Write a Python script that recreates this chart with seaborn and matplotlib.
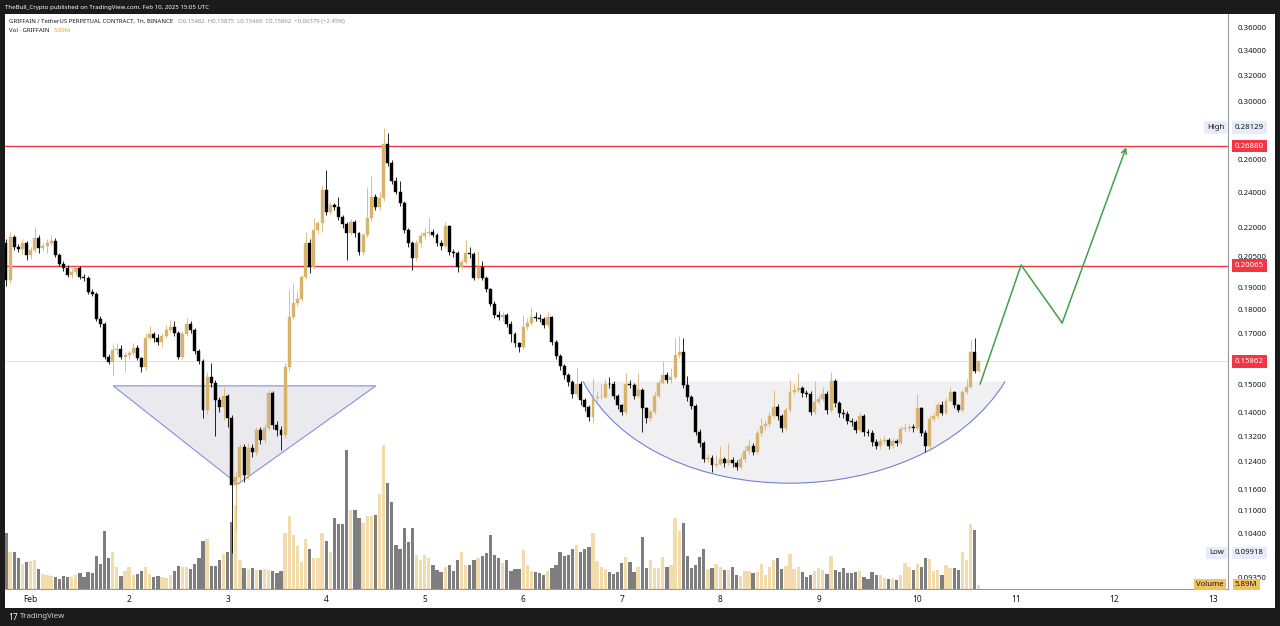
import matplotlib
matplotlib.use("Agg")
import matplotlib.pyplot as plt
import matplotlib.transforms as mtransforms
from matplotlib.patches import Polygon, PathPatch, Rectangle
from matplotlib.path import Path
from matplotlib.ticker import FormatStrFormatter, NullLocator, NullFormatter
import numpy as np
import pandas as pd
import seaborn as sns

# hourly candles, hour 0 = Feb 1 00:00 UTC
first_hour = -6
first_open = 0.2120
closes = [
    0.1936, 0.2150, 0.2100, 0.2090, 0.2120, 0.2060,
    0.2085, 0.2145, 0.2095, 0.2105, 0.2120, 0.2130, 0.2060, 0.2015, 0.1995, 0.1960,
    0.1975, 0.1995, 0.1950, 0.1945, 0.1880, 0.1872, 0.1760, 0.1738, 0.1603, 0.1585,
    0.1630, 0.1635, 0.1605, 0.1610, 0.1618, 0.1640, 0.1600, 0.1564, 0.1680, 0.1695,
    0.1680, 0.1665, 0.1690, 0.1713, 0.1725, 0.1700, 0.1603, 0.1696, 0.1738, 0.1713,
    0.1627, 0.1588, 0.1408, 0.1527, 0.1505, 0.1443, 0.1418, 0.1457, 0.1380, 0.1172,
    0.1195, 0.1286, 0.1200, 0.1282, 0.1270, 0.1341, 0.1308, 0.1347, 0.1468, 0.1357,
    0.1340, 0.1324, 0.1564, 0.1769, 0.1830, 0.1848, 0.1950, 0.2120, 0.1999, 0.2189,
    0.2227, 0.2415, 0.2288, 0.2327, 0.2316, 0.2260, 0.2220, 0.2172, 0.2232, 0.2172,
    0.2074, 0.2162, 0.2254, 0.2373, 0.2316, 0.2368, 0.2702, 0.2580, 0.2469, 0.2403,
    0.2339, 0.2189, 0.2120, 0.2044, 0.2120, 0.2157, 0.2175, 0.2180, 0.2165, 0.2120,
    0.2105, 0.2210, 0.2074, 0.2069, 0.1999, 0.2024, 0.2069, 0.2064, 0.1945, 0.1999,
    0.1945, 0.1894, 0.1826, 0.1777, 0.1769, 0.1777, 0.1738, 0.1696, 0.1659, 0.1643,
    0.1726, 0.1743, 0.1769, 0.1765, 0.1760, 0.1734, 0.1769, 0.1663, 0.1607, 0.1568,
    0.1534, 0.1509, 0.1465, 0.1501, 0.1443, 0.1418, 0.1384, 0.1450, 0.1453, 0.1455,
    0.1501, 0.1499, 0.1458, 0.1425, 0.1400, 0.1501, 0.1498, 0.1458, 0.1479, 0.1415,
    0.1380, 0.1400, 0.1458, 0.1505, 0.1534, 0.1516, 0.1527, 0.1611, 0.1623, 0.1497,
    0.1454, 0.1422, 0.1334, 0.1298, 0.1249, 0.1252, 0.1231, 0.1235, 0.1249, 0.1237,
    0.1246, 0.1237, 0.1225, 0.1249, 0.1274, 0.1289, 0.1271, 0.1331, 0.1354, 0.1360,
    0.1388, 0.1418, 0.1388, 0.1347, 0.1408, 0.1472, 0.1479, 0.1487, 0.1468, 0.1466,
    0.1401, 0.1436, 0.1445, 0.1465, 0.1408, 0.1512, 0.1432, 0.1398, 0.1394, 0.1370,
    0.1366, 0.1341, 0.1386, 0.1334, 0.1331, 0.1302, 0.1289, 0.1305, 0.1308, 0.1289,
    0.1305, 0.1299, 0.1344, 0.1346, 0.1350, 0.1348, 0.1415, 0.1331, 0.1289, 0.1377,
    0.1388, 0.1425, 0.1398, 0.1440, 0.1472, 0.1425, 0.1408, 0.1472, 0.1490, 0.1623,
    0.15482, 0.15862,
]
highs = [
    0.2140, 0.2180, 0.2165, 0.2115, 0.2140, 0.2130,
    0.2100, 0.2205, 0.2160, 0.2125, 0.2140, 0.2160, 0.2145, 0.2070, 0.2030, 0.2010,
    0.1995, 0.2010, 0.2005, 0.1965, 0.1955, 0.1895, 0.1880, 0.1775, 0.1745, 0.1615,
    0.1655, 0.1660, 0.1650, 0.1625, 0.1630, 0.1660, 0.1650, 0.1605, 0.1700, 0.1730,
    0.1705, 0.1695, 0.1700, 0.1735, 0.1756, 0.1750, 0.1710, 0.1710, 0.1765, 0.1750,
    0.1720, 0.1635, 0.1595, 0.1545, 0.1580, 0.1515, 0.1455, 0.1490, 0.1465, 0.1390,
    0.1210, 0.1295, 0.1295, 0.1300, 0.1295, 0.1350, 0.1350, 0.1360, 0.1480, 0.1475,
    0.1370, 0.1355, 0.1580, 0.1890, 0.1920, 0.1880, 0.1960, 0.2180, 0.2140, 0.2254,
    0.2240, 0.2444, 0.2536, 0.2345, 0.2340, 0.2373, 0.2270, 0.2235, 0.2250, 0.2245,
    0.2180, 0.2175, 0.2430, 0.2500, 0.2390, 0.2400, 0.2813, 0.2780, 0.2600, 0.2490,
    0.2470, 0.2350, 0.2200, 0.2130, 0.2135, 0.2180, 0.2200, 0.2260, 0.2195, 0.2175,
    0.2135, 0.2230, 0.2215, 0.2090, 0.2080, 0.2040, 0.2136, 0.2100, 0.2075, 0.2080,
    0.2030, 0.1955, 0.1900, 0.1840, 0.1795, 0.1790, 0.1785, 0.1750, 0.1705, 0.1665,
    0.1777, 0.1765, 0.1812, 0.1790, 0.1780, 0.1770, 0.1790, 0.1775, 0.1670, 0.1615,
    0.1575, 0.1540, 0.1515, 0.1560, 0.1510, 0.1450, 0.1425, 0.1523, 0.1475, 0.1500,
    0.1520, 0.1525, 0.1510, 0.1465, 0.1430, 0.1540, 0.1515, 0.1505, 0.1540, 0.1485,
    0.1420, 0.1410, 0.1470, 0.1515, 0.1586, 0.1545, 0.1560, 0.1680, 0.1690, 0.1680,
    0.1530, 0.1460, 0.1430, 0.1345, 0.1305, 0.1265, 0.1260, 0.1260, 0.1289, 0.1255,
    0.1300, 0.1255, 0.1245, 0.1265, 0.1290, 0.1310, 0.1300, 0.1340, 0.1380, 0.1375,
    0.1400, 0.1480, 0.1430, 0.1395, 0.1420, 0.1516, 0.1500, 0.1540, 0.1495, 0.1480,
    0.1475, 0.1512, 0.1460, 0.1490, 0.1475, 0.1546, 0.1520, 0.1440, 0.1410, 0.1405,
    0.1380, 0.1375, 0.1400, 0.1395, 0.1345, 0.1340, 0.1310, 0.1315, 0.1320, 0.1315,
    0.1315, 0.1312, 0.1355, 0.1364, 0.1360, 0.1360, 0.1465, 0.1420, 0.1340, 0.1390,
    0.1400, 0.1435, 0.1440, 0.1450, 0.1490, 0.1475, 0.1430, 0.1480, 0.1520, 0.1672,
    0.1680, 0.15875,
]
lows = [
    0.1910, 0.1920, 0.2085, 0.2075, 0.2065, 0.2035,
    0.2040, 0.2075, 0.2070, 0.2080, 0.2070, 0.2110, 0.2050, 0.2005, 0.1980, 0.1950,
    0.1945, 0.1960, 0.1940, 0.1930, 0.1870, 0.1860, 0.1750, 0.1725, 0.1595, 0.1575,
    0.1534, 0.1615, 0.1595, 0.1545, 0.1595, 0.1610, 0.1590, 0.1545, 0.1555, 0.1670,
    0.1665, 0.1650, 0.1645, 0.1680, 0.1705, 0.1690, 0.1595, 0.1595, 0.1690, 0.1700,
    0.1615, 0.1575, 0.1380, 0.1395, 0.1490, 0.1320, 0.1400, 0.1374, 0.1350, 0.09918,
    0.1050, 0.1180, 0.1180, 0.1190, 0.1255, 0.1260, 0.1295, 0.1300, 0.1340, 0.1345,
    0.1320, 0.1277, 0.1315, 0.1550, 0.1760, 0.1815, 0.1840, 0.1940, 0.1970, 0.1990,
    0.2170, 0.2180, 0.2270, 0.2275, 0.2300, 0.2245, 0.2200, 0.2034, 0.2160, 0.2150,
    0.2060, 0.2060, 0.2150, 0.2240, 0.2300, 0.2300, 0.2350, 0.2560, 0.2450, 0.2390,
    0.2320, 0.2175, 0.2100, 0.1984, 0.2030, 0.2100, 0.2140, 0.2155, 0.2150, 0.2105,
    0.2085, 0.2095, 0.2060, 0.2050, 0.1975, 0.1990, 0.2015, 0.2045, 0.1935, 0.1940,
    0.1935, 0.1880, 0.1815, 0.1765, 0.1755, 0.1750, 0.1725, 0.1665, 0.1645, 0.1625,
    0.1635, 0.1715, 0.1735, 0.1750, 0.1745, 0.1720, 0.1725, 0.1650, 0.1595, 0.1555,
    0.1520, 0.1495, 0.1450, 0.1455, 0.1425, 0.1405, 0.1370, 0.1364, 0.1440, 0.1445,
    0.1450, 0.1485, 0.1445, 0.1410, 0.1390, 0.1395, 0.1485, 0.1445, 0.1450, 0.1334,
    0.1365, 0.1370, 0.1395, 0.1450, 0.1500, 0.1505, 0.1505, 0.1520, 0.1600, 0.1485,
    0.1440, 0.1410, 0.1325, 0.1285, 0.1240, 0.1240, 0.1210, 0.1225, 0.1230, 0.1225,
    0.1230, 0.1225, 0.1216, 0.1220, 0.1240, 0.1265, 0.1260, 0.1265, 0.1320, 0.1340,
    0.1350, 0.1380, 0.1375, 0.1335, 0.1340, 0.1400, 0.1465, 0.1470, 0.1455, 0.1455,
    0.1390, 0.1395, 0.1430, 0.1440, 0.1395, 0.1400, 0.1420, 0.1385, 0.1380, 0.1360,
    0.1355, 0.1330, 0.1335, 0.1320, 0.1320, 0.1290, 0.1280, 0.1280, 0.1295, 0.1280,
    0.1282, 0.1290, 0.1295, 0.1335, 0.1338, 0.1335, 0.1340, 0.1320, 0.1271, 0.1274,
    0.1370, 0.1380, 0.1390, 0.1395, 0.1435, 0.1415, 0.1400, 0.1400, 0.1465, 0.1485,
    0.1540, 0.15469,
]
# volume in millions
volumes = [
    82, 55, 54, 46, 37, 39,
    41, 42, 29, 22, 20, 19, 18, 15, 19, 18,
    18, 21, 23, 18, 25, 23, 48, 37, 85, 46,
    55, 33, 19, 26, 32, 21, 22, 27, 33, 22,
    18, 19, 18, 16, 20, 27, 34, 33, 32, 30,
    37, 46, 70, 74, 34, 34, 43, 51, 55, 99,
    124, 43, 31, 30, 31, 28, 28, 30, 28, 27,
    24, 26, 82, 108, 80, 63, 39, 74, 59, 46,
    46, 83, 70, 55, 104, 95, 95, 205, 116, 116,
    104, 97, 108, 108, 109, 139, 212, 156, 128, 65,
    59, 90, 69, 90, 50, 42, 50, 46, 36, 28,
    25, 33, 36, 26, 43, 54, 36, 36, 42, 46,
    48, 53, 80, 50, 45, 38, 43, 27, 30, 30,
    57, 36, 27, 25, 24, 21, 26, 31, 35, 54,
    49, 50, 59, 64, 54, 59, 62, 82, 41, 33,
    29, 25, 22, 25, 38, 47, 40, 25, 33, 76,
    31, 42, 31, 31, 47, 32, 36, 104, 85, 97,
    48, 31, 35, 47, 59, 29, 31, 37, 33, 28,
    28, 32, 21, 19, 27, 27, 23, 25, 37, 21,
    32, 42, 45, 30, 34, 52, 29, 32, 25, 17,
    20, 26, 31, 28, 22, 48, 28, 25, 31, 23,
    24, 25, 26, 18, 15, 25, 20, 20, 16, 14,
    15, 13, 21, 38, 33, 28, 37, 32, 45, 44,
    27, 28, 21, 36, 31, 31, 28, 54, 43, 96,
    87, 5.89,
]

day_ticks = [0, 24, 48, 72, 96, 120, 144, 168, 192, 216, 240, 264, 288]
day_labels = ["Feb", "2", "3", "4", "5", "6", "7", "8", "9", "10", "11", "12", "13"]
price_ticks = [0.36, 0.34, 0.32, 0.30, 0.26, 0.24, 0.22, 0.205, 0.19, 0.18,
               0.17, 0.15, 0.14, 0.132, 0.124, 0.116, 0.11, 0.104, 0.0935]
levels = [0.2688, 0.20065]
last_price = 0.15862
range_high = 0.28129
range_low = 0.09918
last_volume = "5.89M"
volume_tag_price = 0.0918

# drawings (hour, price)
triangle = [(20.1, 0.1494), (84.1, 0.1494), (50.5, 0.1174)]
cup = [(134.6, 0.1510), (152.0, 0.1083), (217.0, 0.1083), (237.4, 0.1510)]
projection = [(231.3, 0.1500), (241.3, 0.2009), (251.3, 0.1743), (266.9, 0.2681)]

UP = "#d9b36c"
DOWN = "#000000"
VOL_UP = "#f2dcab"
VOL_DOWN = "#7e7e7e"
RED = "#f23645"
TEXT = "#131722"

df = pd.DataFrame({
    "hour": np.arange(first_hour, first_hour + len(closes)),
    "open": [first_open] + closes[:-1],
    "high": highs, "low": lows, "close": closes, "volume": volumes,
})
df["direction"] = np.where(df["close"] >= df["open"], "up", "down")

sns.set_theme(style="white")
plt.rcParams["font.family"] = ["Noto Sans", "DejaVu Sans"]

W, H = 1280, 626
fig = plt.figure(figsize=(W / 100, H / 100), dpi=100, facecolor="#1b1b1b")
fig.patches.append(Rectangle((5 / W, (H - 608) / H), 1270 / W, 594 / H,
                             transform=fig.transFigure, fc="white", ec="none", zorder=-5))
rect = [5 / W, (H - 589) / H, 1223 / W, 575 / H]
xlim = (-6.24, 291.7)

# volume pane underneath
axv = fig.add_axes(rect)
sns.barplot(data=df, x="hour", y="volume", hue="direction", native_scale=True,
            palette={"up": VOL_UP, "down": VOL_DOWN}, dodge=False, width=0.8,
            saturation=1, errorbar=None, legend=False, linewidth=0, ax=axv)
axv.set_xlim(*xlim)
axv.set_ylim(0, 845)
axv.axis("off")

ax = fig.add_axes(rect)
ax.patch.set_visible(False)
ax.set_yscale("log")
ax.set_xlim(*xlim)
ax.set_ylim(0.0908, 0.3717)

colors = np.where(df["direction"] == "up", UP, DOWN)
body_lo = np.minimum(df["open"], df["close"])
body_hi = np.maximum(df["open"], df["close"])
ax.vlines(df["hour"], df["low"], df["high"], colors=colors, lw=0.6, zorder=3)
ax.bar(df["hour"], body_hi - body_lo, bottom=body_lo, width=0.72, color=colors,
       edgecolor=colors, linewidth=0.3, zorder=4)

# horizontal levels
for lv in levels:
    ax.axhline(lv, color=RED, lw=1.0, zorder=2)
ax.axhline(last_price, color="#dcdcdc", lw=0.6, zorder=1)

# triangle and cup
ax.add_patch(Polygon(triangle, closed=True, fc="#e6e6ec", ec="#7180d8", lw=0.8,
                     alpha=0.85, zorder=1.5))
cup_fill = Path(cup + [cup[0], cup[0]],
                [Path.MOVETO, Path.CURVE4, Path.CURVE4, Path.CURVE4, Path.LINETO, Path.CLOSEPOLY])
ax.add_patch(PathPatch(cup_fill, fc="#efeff2", ec="none", alpha=0.9, zorder=1.2))
cup_edge = Path(cup, [Path.MOVETO, Path.CURVE4, Path.CURVE4, Path.CURVE4])
ax.add_patch(PathPatch(cup_edge, fc="none", ec="#7180d8", lw=0.8, zorder=1.6))

# projected path
px, py = zip(*projection)
ax.plot(px[:-1], py[:-1], color="#43a047", lw=1.1, zorder=5)
ax.annotate("", xy=projection[-1], xytext=projection[-2],
            arrowprops=dict(arrowstyle="->", color="#43a047", lw=1.1,
                            mutation_scale=9, shrinkA=0, shrinkB=0), zorder=5)

# axes styling
for side in ["left", "top"]:
    ax.spines[side].set_visible(False)
for side in ["right", "bottom"]:
    ax.spines[side].set_color("#9598a1")
    ax.spines[side].set_linewidth(0.8)
ax.yaxis.tick_right()
ax.set_yticks(price_ticks)
ax.yaxis.set_major_formatter(FormatStrFormatter("%.5f"))
ax.yaxis.set_minor_locator(NullLocator())
ax.yaxis.set_minor_formatter(NullFormatter())
ax.tick_params(axis="y", length=0, labelsize=5.6, pad=7, colors=TEXT)
ax.set_xticks(day_ticks, day_labels)
ax.tick_params(axis="x", length=0, labelsize=6, pad=4, colors=TEXT)
ax.get_xticklabels()[0].set_fontweight("bold")
ax.grid(False)

trans = mtransforms.blended_transform_factory(ax.transAxes, ax.transData)
lab_x = 1 + 7 / 1223
for lv in levels + [last_price]:
    ax.text(lab_x, lv, f"{lv:.5f}", transform=trans, ha="left", va="center",
            fontsize=5.6, color="white", zorder=10, clip_on=False,
            bbox=dict(boxstyle="square,pad=0.35", fc=RED, ec="none"))
for name, val in [("High", range_high), ("Low", range_low)]:
    ax.text(lab_x, val, f"{val:.5f}", transform=trans, ha="left", va="center",
            fontsize=5.6, color=TEXT, zorder=10, clip_on=False,
            bbox=dict(boxstyle="square,pad=0.35", fc="#e6edf8", ec="none"))
    ax.text(1 - 4 / 1223, val, name, transform=trans, ha="right", va="center",
            fontsize=5.6, color=TEXT, zorder=10, clip_on=False,
            bbox=dict(boxstyle="square,pad=0.35", fc="#e6edf8", ec="none"))
ax.text(lab_x, volume_tag_price, last_volume, transform=trans, ha="left", va="center",
        fontsize=5.6, color=TEXT, zorder=10, clip_on=False,
        bbox=dict(boxstyle="square,pad=0.3", fc="#f3c25e", ec="none"))
ax.text(1 - 4 / 1223, volume_tag_price, "Volume", transform=trans, ha="right", va="center",
        fontsize=5.6, color=TEXT, zorder=10, clip_on=False,
        bbox=dict(boxstyle="square,pad=0.3", fc="#f3c25e", ec="none"))

# header texts
fig.text(5 / W, 1 - 7 / H, "TheBull_Crypto published on TradingView.com, Feb 10, 2025 15:05 UTC",
         color="white", fontsize=4.4, va="center", ha="left")
t1 = fig.text(9 / W, 1 - 21 / H, "GRIFFAIN / TetherUS PERPETUAL CONTRACT, 1h, BINANCE",
              color=TEXT, fontsize=4.3, va="center", ha="left")
t2 = fig.text(9 / W, 1 - 30 / H, "Vol · GRIFFAIN", color=TEXT, fontsize=4.3,
              va="center", ha="left")
fig.text(8 / W, 1 - 617 / H, "17", color="white", fontsize=6, fontweight="bold",
         va="center", ha="left")
fig.text(20 / W, 1 - 617 / H, "TradingView", color="#d0d0d0", fontsize=5.6,
         va="center", ha="left")

# place the value strings right after their titles
fig.canvas.draw()
renderer = fig.canvas.get_renderer()
bb1 = t1.get_window_extent(renderer)
fig.text((bb1.x1 + 5) / W, 1 - 21 / H,
         "O0.15482  H0.15875  L0.15469  C0.15862  +0.00379 (+2.45%)",
         color="#8a8f98", fontsize=4.3, va="center", ha="left")
bb2 = t2.get_window_extent(renderer)
fig.text((bb2.x1 + 4) / W, 1 - 30 / H, last_volume, color="#d6a93e", fontsize=4.3,
         va="center", ha="left")

fig.savefig("out.png", dpi=100, facecolor=fig.get_facecolor())
